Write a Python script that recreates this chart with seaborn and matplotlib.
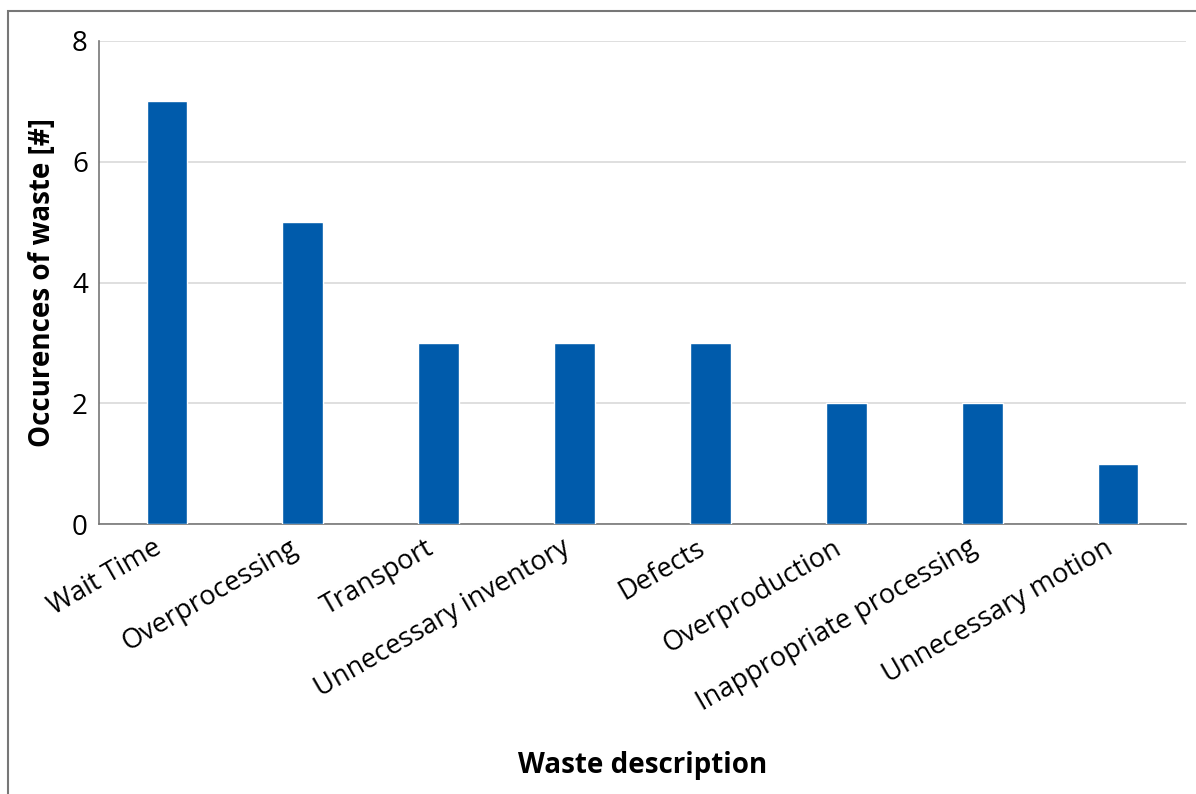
import numpy as np
import pandas as pd
import matplotlib
matplotlib.use("Agg")
import matplotlib.pyplot as plt
import matplotlib.transforms as mtransforms
import seaborn as sns
from matplotlib.patches import Rectangle

categories = ["Wait Time", "Overprocessing", "Transport", "Unnecessary inventory",
              "Defects", "Overproduction", "Inappropriate processing", "Unnecessary motion"]
counts = [7, 5, 3, 3, 3, 2, 2, 1]
y_ticks = [0, 2, 4, 6, 8]

df = pd.DataFrame({"waste": categories, "count": counts})

sns.set_style("white")
plt.rcParams["font.family"] = ["Open Sans", "DejaVu Sans"]
plt.rcParams["text.color"] = "black"
plt.rcParams["xtick.labelcolor"] = "black"
plt.rcParams["ytick.labelcolor"] = "black"
plt.rcParams["axes.labelcolor"] = "black"

fig = plt.figure(figsize=(11.96, 7.94), dpi=100)
ax = fig.add_axes([0.0828, 0.340, 0.9088, 0.6084])

sns.barplot(data=df, x="waste", y="count", color="#005BAB", width=0.3,
            saturation=1, ax=ax, zorder=3)

ax.set_ylim(0, 8)
ax.set_xlim(-0.5, len(categories) - 0.5)
ax.set_yticks(y_ticks)
ax.set_yticklabels([str(t) for t in y_ticks], fontsize=20)
ax.yaxis.grid(True, color="#d9d9d9", linewidth=1.2, zorder=0)
ax.tick_params(axis="y", direction="in", length=8, color="#999999", pad=8)

# labels at bar centres, extra ticks at category boundaries
ax.set_xticks(np.arange(len(categories)))
ax.set_xticklabels(categories, rotation=30, ha="right", rotation_mode="anchor", fontsize=19.5)
ax.set_xticks(np.arange(len(categories) + 1) - 0.5, minor=True)
ax.tick_params(axis="x", which="both", direction="out", length=10, color="#999999", width=1.2)
ax.tick_params(axis="x", which="major", pad=0)
shift = mtransforms.ScaledTranslation(-14 / 100, 4 / 100, fig.dpi_scale_trans)
for lbl in ax.get_xticklabels():
    lbl.set_transform(lbl.get_transform() + shift)

for s in ["top", "right"]:
    ax.spines[s].set_visible(False)
ax.spines["left"].set_color("#777777")
ax.spines["bottom"].set_color("#777777")
ax.spines["left"].set_linewidth(1.2)
ax.spines["bottom"].set_linewidth(1.2)

ax.set_xlabel("")
ax.set_ylabel("Occurences of waste [#]", fontsize=20, fontweight="bold", labelpad=11)
fig.text(0.537, 0.036, "Waste description", ha="center", va="center",
         fontsize=20, fontweight="bold")

# outer frame
fig.patches.append(Rectangle((8 / 1196, -0.1), 1.2, 1.1 - 11 / 794, transform=fig.transFigure,
                             fill=False, edgecolor="#777777", linewidth=1.5))

fig.savefig("out.png", dpi=100)
